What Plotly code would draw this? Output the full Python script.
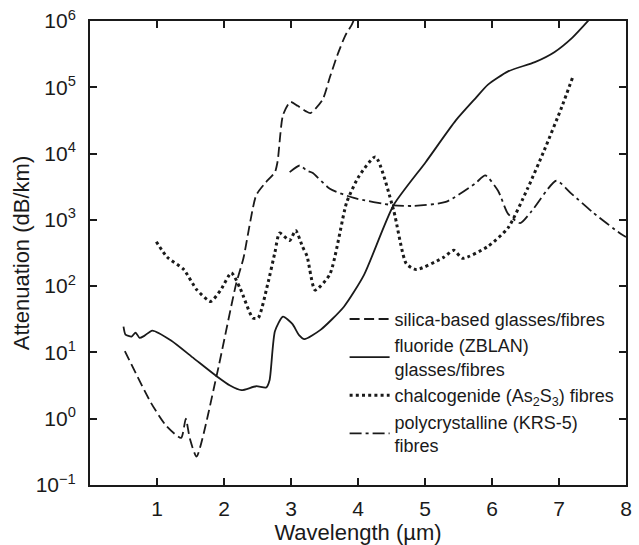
import plotly.graph_objects as go

# Wavelength (µm) and log10(attenuation dB/km)
silica_x = [0.52, 0.91, 1.14, 1.36, 1.43, 1.49, 1.59, 1.89, 2.18, 2.29, 2.48, 2.61, 2.76, 2.80, 2.88, 2.99, 3.10, 3.22, 3.29, 3.47, 3.58, 3.69, 3.81, 3.91, 3.97]
silica_log = [1.02, 0.24, -0.11, -0.29, 0.00, -0.30, -0.57, 0.65, 2.03, 2.42, 3.37, 3.55, 3.72, 3.88, 4.58, 4.78, 4.72, 4.64, 4.61, 4.81, 5.15, 5.48, 5.78, 5.95, 6.10]

fluoride_x = [0.50, 0.53, 0.62, 0.68, 0.74, 0.81, 0.93, 1.21, 1.55, 1.89, 2.09, 2.26, 2.48, 2.63, 2.68, 2.76, 2.88, 3.02, 3.12, 3.20, 3.44, 3.79, 4.09, 4.53, 5.01, 5.46, 5.75, 5.94, 6.24, 6.64, 6.93, 7.20, 7.45]
fluoride_log = [1.39, 1.27, 1.24, 1.30, 1.22, 1.25, 1.33, 1.18, 0.91, 0.64, 0.50, 0.43, 0.49, 0.47, 0.58, 1.32, 1.54, 1.43, 1.26, 1.20, 1.34, 1.69, 2.17, 3.22, 3.87, 4.50, 4.83, 5.04, 5.24, 5.38, 5.53, 5.75, 6.02]

chalco_x = [0.99, 1.15, 1.40, 1.59, 1.80, 1.95, 2.11, 2.24, 2.43, 2.51, 2.65, 2.76, 2.83, 2.98, 3.07, 3.17, 3.24, 3.36, 3.58, 3.83, 4.01, 4.26, 4.53, 4.72, 4.87, 5.27, 5.43, 5.56, 5.94, 6.24, 6.53, 6.78, 7.04, 7.20]
chalco_log = [2.67, 2.44, 2.25, 1.95, 1.77, 1.94, 2.20, 1.97, 1.52, 1.52, 2.02, 2.51, 2.80, 2.69, 2.84, 2.60, 2.45, 1.94, 2.18, 3.26, 3.65, 3.95, 3.15, 2.34, 2.25, 2.43, 2.54, 2.42, 2.60, 2.88, 3.47, 4.05, 4.70, 5.14]

poly_x = [2.98, 3.13, 3.24, 3.32, 3.58, 3.94, 4.53, 4.82, 5.31, 5.75, 5.90, 6.09, 6.24, 6.42, 6.59, 6.96, 7.18, 7.52, 7.92, 8.00]
poly_log = [3.72, 3.82, 3.74, 3.71, 3.47, 3.33, 3.22, 3.21, 3.27, 3.55, 3.67, 3.44, 3.09, 2.95, 3.13, 3.59, 3.40, 3.10, 2.79, 2.74]

names = ["silica-based glasses/fibres",
         "fluoride (ZBLAN)<br>glasses/fibres",
         "chalcogenide (As<sub>2</sub>S<sub>3</sub>) fibres",
         "polycrystalline (KRS-5)<br>fibres"]

x_ticks = [1, 2, 3, 4, 5, 6, 7, 8]
y_exp = [-1, 0, 1, 2, 3, 4, 5, 6]
y_ticktext = ["10<sup>−1</sup>" if e < 0 else "10<sup>%d</sup>" % e for e in y_exp]

ink = "#1a1a1a"
series = [
    (silica_x, silica_log, "10px,4.5px", 1.8),
    (fluoride_x, fluoride_log, "solid", 1.8),
    (chalco_x, chalco_log, "3px,3.2px", 3.0),
    (poly_x, poly_log, "12px,4px,3px,4px", 1.8),
]

fig = go.Figure()
for (xs, ls, dash, w), nm in zip(series, names):
    fig.add_trace(go.Scatter(
        x=xs, y=[10 ** v for v in ls], mode="lines", name=nm,
        line=dict(color=ink, width=w, dash=dash, shape="spline", smoothing=0.6),
    ))

font = "Liberation Sans, Arial, sans-serif"
fig.update_layout(
    width=639, height=545,
    margin=dict(l=90, r=7, t=18, b=57),
    paper_bgcolor="white", plot_bgcolor="white",
    font=dict(family=font, color=ink, size=20),
    showlegend=True,
    legend=dict(x=0.475, y=0.397, xanchor="left", yanchor="top",
                bgcolor="rgba(0,0,0,0)", font=dict(size=18, color=ink),
                itemwidth=40, tracegroupgap=0),
)
fig.update_xaxes(
    range=[0, 8], tickvals=x_ticks, ticktext=[str(v) for v in x_ticks],
    showgrid=False, zeroline=False, showline=True, linecolor=ink, linewidth=2,
    mirror="ticks", ticks="inside", ticklen=7, tickwidth=1.5, tickcolor=ink,
    tickfont=dict(size=21), ticklabelstandoff=4,
    title=dict(text="Wavelength (µm)", font=dict(size=22), standoff=2),
)
fig.update_yaxes(
    type="log", range=[-1, 6], tickvals=[10 ** e for e in y_exp], ticktext=y_ticktext,
    showgrid=False, zeroline=False, showline=True, linecolor=ink, linewidth=2,
    mirror="ticks", ticks="inside", ticklen=7, tickwidth=1.5, tickcolor=ink,
    tickfont=dict(size=21), ticklabelstandoff=8,
    title=dict(text="Attenuation (dB/km)", font=dict(size=22), standoff=0),
)
fig.write_html("out.html")
